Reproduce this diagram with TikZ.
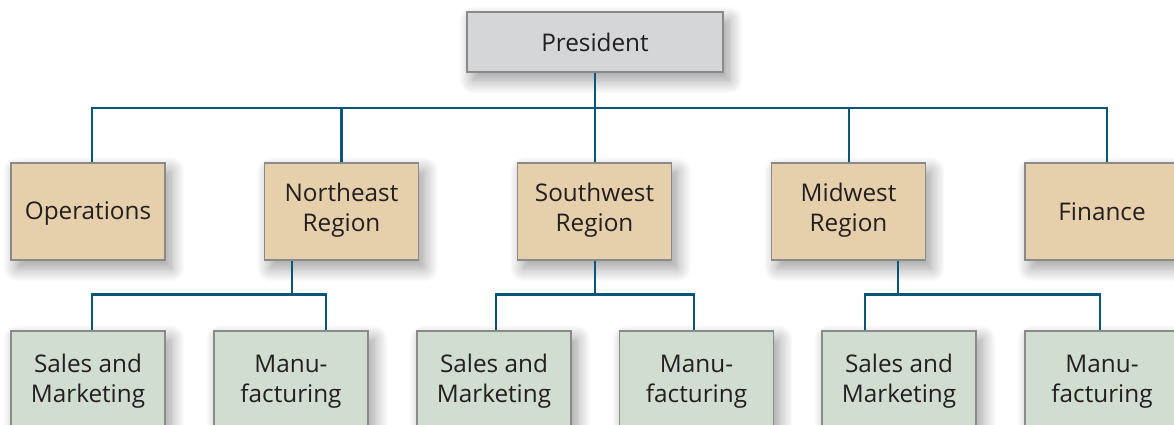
\documentclass[tikz,border=0pt]{standalone}
\usepackage{fontspec}
\setmainfont{Open Sans}
\usetikzlibrary{shadows.blur,calc}
\definecolor{presfill}{HTML}{D5D6D8}
\definecolor{tanfill}{HTML}{E6CFAB}
\definecolor{greenfill}{HTML}{D0DDD0}
\definecolor{boxline}{HTML}{8A8A8A}
\definecolor{connc}{HTML}{0B547A}
\definecolor{textc}{HTML}{231F20}
\newcommand{\shiftlab}[2]{\raisebox{#1}[\height][\depth]{\begin{tabular}{@{}c@{}}#2\end{tabular}}}
\begin{document}
\begin{tikzpicture}[x=1pt,y=-1pt,
  box/.style={draw=boxline, line width=1.2pt, minimum width=154pt, minimum height=97pt,
    inner sep=0pt, align=center, text=textc, font=\fontsize{24.3}{30}\selectfont,
    blur shadow={shadow xshift=6pt, shadow yshift=-8pt, shadow blur radius=14pt, shadow blur steps=12, shadow opacity=40}},
  presbox/.style={box, fill=presfill, minimum width=256pt, minimum height=60pt},
  tanbox/.style={box, fill=tanfill},
  greenbox/.style={box, fill=greenfill}]
\tikzset{conn/.style={draw=connc, line width=2.8pt, line join=miter}}
\useasboundingbox (0,0) rectangle (1174,424);
% top
\node[presbox] (pres) at (595,42) {President};
% second row
\node[tanbox] (ops) at (88,211.5) {\shiftlab{-2pt}{Operations}};
\node[tanbox] (ne)  at (341.5,211.5) {\shiftlab{1.5pt}{Northeast\\Region}};
\node[tanbox] (sw)  at (594.5,211.5) {\shiftlab{1.5pt}{Southwest\\Region}};
\node[tanbox] (mw)  at (848.5,211.5) {\shiftlab{1.5pt}{Midwest\\Region}};
\node[tanbox] (fin) at (1102,211.5) {Finance};
% third row
\node[greenbox] (sm1) at (88,379.5) {\shiftlab{-2pt}{Sales and\\Marketing}};
\node[greenbox] (mf1) at (291,379.5) {\shiftlab{-2pt}{Manu-\\facturing}};
\node[greenbox] (sm2) at (494,379.5) {\shiftlab{-2pt}{Sales and\\Marketing}};
\node[greenbox] (mf2) at (696.5,379.5) {\shiftlab{-2pt}{Manu-\\facturing}};
\node[greenbox] (sm3) at (899,379.5) {\shiftlab{-2pt}{Sales and\\Marketing}};
\node[greenbox] (mf3) at (1102,379.5) {\shiftlab{-2pt}{Manu-\\facturing}};
% connectors
\coordinate (bus) at (595,108);
\draw[conn] (pres.south) -- (bus);
\draw[conn] ([xshift=4pt]ops.north) |- (bus) -| ([xshift=5pt]fin.north);
\draw[conn] (ne.north) -- (ne.north |- bus);
\draw[conn] ([xshift=0.5pt]sw.north) -- ([xshift=0.5pt]sw.north |- bus);
\draw[conn] ([xshift=0.5pt]mw.north) -- ([xshift=0.5pt]mw.north |- bus);
% northeast group
\draw[conn] ([xshift=-49.5pt]ne.south) -- ++(0,33.5) coordinate (nej);
\draw[conn] ([xshift=4pt]sm1.north) |- (nej) -| ([xshift=35pt]mf1.north);
% southwest group
\draw[conn] ([xshift=0.5pt]sw.south) -- ++(0,33.5) coordinate (swj);
\draw[conn] ([xshift=2pt]sm2.north) |- (swj) -| ([xshift=-2.5pt]mf2.north);
% midwest group
\draw[conn] ([xshift=49.5pt]mw.south) -- ++(0,33.5) coordinate (mwj);
\draw[conn] ([xshift=-34pt]sm3.north) |- (mwj) -| ([xshift=-2pt]mf3.north);
\end{tikzpicture}
\end{document}
